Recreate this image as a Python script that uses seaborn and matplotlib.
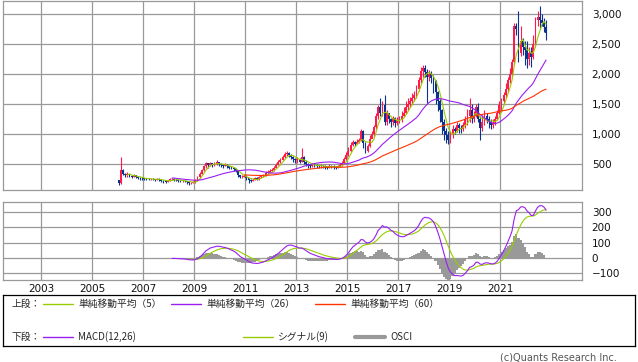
import numpy as np
import pandas as pd
import matplotlib
matplotlib.use("Agg")
import matplotlib.pyplot as plt
from matplotlib.ticker import FuncFormatter
import seaborn as sns

# --------------------------
# DATA (monthly candles, Jan 2006 - Oct 2022)
# --------------------------
first_open = 230

close_2006 = [190, 400, 340, 310, 330, 300, 290, 320, 280, 270, 265, 260]
close_2007 = [255, 250, 245, 250, 245, 240, 250, 240, 225, 210, 205, 220]
close_2008 = [245, 255, 240, 230, 220, 215, 225, 210, 200, 185, 190, 200]
close_2009 = [230, 280, 340, 400, 460, 510, 480, 520, 490, 500, 530, 500]
close_2010 = [480, 470, 490, 460, 440, 430, 420, 380, 310, 280, 290, 300]
close_2011 = [260, 230, 220, 240, 260, 250, 280, 300, 310, 350, 370, 380]
close_2012 = [400, 440, 490, 530, 570, 610, 660, 690, 650, 620, 580, 560]
close_2013 = [580, 540, 620, 540, 500, 480, 470, 490, 480, 470, 460, 470]
close_2014 = [460, 450, 440, 470, 460, 450, 440, 460, 480, 520, 580, 650]
close_2015 = [720, 820, 860, 840, 870, 900, 1050, 850, 720, 800, 920, 1000]
close_2016 = [1120, 1300, 1450, 1350, 1480, 1200, 1350, 1250, 1200, 1260, 1180, 1230]
close_2017 = [1250, 1300, 1350, 1450, 1500, 1550, 1600, 1650, 1750, 1900, 2050, 2100]
close_2018 = [2030, 1950, 2000, 1930, 1880, 1700, 1550, 1400, 1200, 1050, 980, 900]
close_2019 = [1000, 1080, 1050, 1150, 1100, 1080, 1150, 1250, 1300, 1400, 1250, 1300]
close_2020 = [1450, 1250, 1100, 1200, 1300, 1250, 1200, 1150, 1180, 1250, 1350, 1480]
close_2021 = [1550, 1650, 1750, 1900, 2000, 2200, 2800, 2750, 2350, 2550, 2450, 2400]
close_2022 = [2250, 2350, 2280, 2500, 2900, 2950, 2900, 2850, 2780, 2680]

high_2006 = [240, 620, 420, 350, 360, 340, 320, 340, 320, 290, 285, 280]
high_2007 = [275, 270, 265, 265, 260, 255, 265, 260, 245, 235, 225, 240]
high_2008 = [265, 275, 260, 250, 240, 235, 240, 230, 220, 210, 205, 215]
high_2009 = [250, 300, 360, 420, 480, 530, 520, 540, 520, 530, 560, 540]
high_2010 = [510, 500, 520, 500, 470, 460, 450, 430, 390, 320, 310, 320]
high_2011 = [310, 270, 250, 260, 280, 280, 300, 320, 340, 380, 400, 410]
high_2012 = [430, 470, 520, 560, 600, 650, 700, 720, 700, 660, 630, 600]
high_2013 = [620, 600, 760, 640, 560, 520, 500, 520, 510, 500, 490, 500]
high_2014 = [490, 480, 470, 500, 490, 480, 470, 490, 510, 550, 620, 700]
high_2015 = [780, 860, 900, 890, 910, 940, 1080, 1070, 860, 830, 980, 1050]
high_2016 = [1150, 1350, 1480, 1600, 1550, 1650, 1400, 1300, 1270, 1300, 1280, 1280]
high_2017 = [1300, 1380, 1450, 1550, 1600, 1620, 1680, 1720, 1820, 1950, 2120, 2150]
high_2018 = [2150, 2080, 2060, 2050, 1980, 1900, 1720, 1580, 1420, 1250, 1100, 1050]
high_2019 = [1050, 1150, 1120, 1200, 1180, 1150, 1200, 1300, 1420, 1600, 1500, 1380]
high_2020 = [1500, 1520, 1300, 1320, 1400, 1350, 1300, 1250, 1250, 1300, 1400, 1550]
high_2021 = [1600, 1700, 1850, 1950, 2100, 2250, 2850, 2850, 3050, 2800, 2600, 2550]
high_2022 = [2550, 2450, 2450, 2650, 2950, 3050, 3130, 3000, 2930, 2900]

low_2006 = [150, 170, 320, 280, 290, 280, 270, 280, 260, 250, 240, 240]
low_2007 = [240, 235, 230, 235, 230, 225, 230, 220, 200, 180, 190, 200]
low_2008 = [210, 235, 225, 215, 205, 200, 205, 195, 175, 150, 170, 180]
low_2009 = [190, 220, 270, 330, 390, 440, 440, 460, 450, 460, 480, 470]
low_2010 = [450, 440, 460, 430, 420, 410, 390, 370, 290, 260, 270, 280]
low_2011 = [240, 190, 200, 210, 230, 230, 240, 270, 280, 300, 340, 350]
low_2012 = [370, 390, 430, 480, 520, 560, 600, 640, 620, 580, 540, 520]
low_2013 = [520, 510, 530, 500, 460, 440, 440, 450, 450, 440, 430, 440]
low_2014 = [430, 420, 410, 430, 430, 420, 410, 430, 450, 470, 510, 560]
low_2015 = [640, 700, 800, 800, 830, 850, 880, 760, 690, 700, 780, 930]
low_2016 = [950, 1080, 1250, 1300, 1300, 1150, 1150, 1180, 1120, 1150, 1120, 1150]
low_2017 = [1180, 1200, 1280, 1330, 1400, 1450, 1500, 1550, 1600, 1720, 1850, 1950]
low_2018 = [1950, 1520, 1880, 1850, 1680, 1500, 1380, 1200, 1000, 900, 850, 830]
low_2019 = [850, 930, 1000, 1030, 1020, 1020, 1050, 1100, 1150, 1200, 1180, 1200]
low_2020 = [1280, 1200, 900, 1050, 1150, 1180, 1100, 1080, 1100, 1150, 1230, 1330]
low_2021 = [1380, 1500, 1600, 1700, 1850, 1950, 2150, 2650, 2200, 2300, 2320, 2150]
low_2022 = [2100, 2150, 2120, 2250, 2450, 2800, 2750, 2800, 2700, 2570]

year_ticks = [2003, 2005, 2007, 2009, 2011, 2013, 2015, 2017, 2019, 2021]
price_ticks = [500, 1000, 1500, 2000, 2500, 3000]
macd_ticks = [-100, 0, 100, 200, 300]

closes = (close_2006 + close_2007 + close_2008 + close_2009 + close_2010 + close_2011
          + close_2012 + close_2013 + close_2014 + close_2015 + close_2016 + close_2017
          + close_2018 + close_2019 + close_2020 + close_2021 + close_2022)
highs = (high_2006 + high_2007 + high_2008 + high_2009 + high_2010 + high_2011
         + high_2012 + high_2013 + high_2014 + high_2015 + high_2016 + high_2017
         + high_2018 + high_2019 + high_2020 + high_2021 + high_2022)
lows = (low_2006 + low_2007 + low_2008 + low_2009 + low_2010 + low_2011
        + low_2012 + low_2013 + low_2014 + low_2015 + low_2016 + low_2017
        + low_2018 + low_2019 + low_2020 + low_2021 + low_2022)

df = pd.DataFrame({"close": closes, "high": highs, "low": lows})
df["open"] = df["close"].shift(1).fillna(first_open)
df["t"] = 2006 + (np.arange(len(df)) + 0.5) / 12

# moving averages
df["ma5"] = df["close"].rolling(5).mean()
df["ma26"] = df["close"].rolling(26).mean()
df["ma60"] = df["close"].rolling(60).mean()

# MACD(12,26), signal(9)
ema12 = df["close"].ewm(span=12, adjust=False).mean()
ema26 = df["close"].ewm(span=26, adjust=False).mean()
macd = ema12 - ema26
macd.iloc[:25] = np.nan
signal = macd.ewm(span=9, adjust=False).mean()
signal.iloc[:33] = np.nan
df["macd"] = macd
df["signal"] = signal
df["osci"] = macd - signal

# --------------------------
# STYLE
# --------------------------
sns.set_style("white")
plt.rcParams["font.family"] = ["DejaVu Sans", "Noto Sans CJK JP"]

RED = "#ff1a4b"
BLUE = "#0a3291"
GREEN = "#99cc00"
PURPLE = "#9b1ef0"
ORANGE = "#ff3300"
GRID = "#999999"

fig = plt.figure(figsize=(6.38, 3.62), dpi=100)
ax = fig.add_axes([3 / 638, 172 / 362, 579 / 638, 189.5 / 362])
ax2 = fig.add_axes([3 / 638, 82 / 362, 579 / 638, 78.5 / 362])

# --------------------------
# TOP: candles + MAs
# --------------------------
up = df["close"] >= df["open"]
cols = np.where(up, RED, BLUE)
ax.vlines(df["t"], df["low"], df["high"], colors=cols, linewidth=0.8, zorder=3)
ax.bar(df["t"], df["close"] - df["open"], bottom=df["open"], width=0.85 / 12,
       color=cols, linewidth=0, zorder=3)

sns.lineplot(x=df["t"], y=df["ma5"], ax=ax, color=GREEN, linewidth=0.8, zorder=4)
sns.lineplot(x=df["t"], y=df["ma26"], ax=ax, color=PURPLE, linewidth=0.8, zorder=4)
sns.lineplot(x=df["t"], y=df["ma60"], ax=ax, color=ORANGE, linewidth=0.8, zorder=4)

ax.set_xlim(2001.5, 2024.2)
ax.set_ylim(67, 3225)
ax.set_xticks(year_ticks)
ax.set_xticklabels([])
ax.set_yticks(price_ticks)
ax.yaxis.set_major_formatter(FuncFormatter(lambda v, p: f"{int(v):,}"))

# --------------------------
# BOTTOM: MACD
# --------------------------
ax2.bar(df["t"], df["osci"], width=1 / 12, color=GRID, linewidth=0, zorder=2)
sns.lineplot(x=df["t"], y=df["signal"], ax=ax2, color=GREEN, linewidth=0.8, zorder=3)
sns.lineplot(x=df["t"], y=df["macd"], ax=ax2, color=PURPLE, linewidth=0.8, zorder=4)

ax2.set_xlim(2001.5, 2024.2)
ax2.set_ylim(-142, 365)
ax2.set_xticks(year_ticks)
ax2.set_xticklabels([str(y) for y in year_ticks])
ax2.set_yticks(macd_ticks)

for a in (ax, ax2):
    a.set_xlabel("")
    a.set_ylabel("")
    a.yaxis.tick_right()
    a.grid(True, color=GRID, linewidth=0.9)
    a.set_axisbelow(True)
    a.tick_params(axis="y", length=0, pad=7, labelsize=7.5, colors="#111111")
    a.tick_params(axis="x", length=0, pad=3, labelsize=7.5, colors="#111111")
    for s in a.spines.values():
        s.set_color(GRID)
        s.set_linewidth(0.9)

# --------------------------
# LEGEND BOX
# --------------------------
lg = fig.add_axes([3 / 638, 16 / 362, 632 / 638, 51 / 362])
lg.set_xlim(0, 632)
lg.set_ylim(51, 0)
lg.set_xticks([])
lg.set_yticks([])
for s in lg.spines.values():
    s.set_color("black")
    s.set_linewidth(0.9)

fs = 7
fam = ["Noto Sans CJK JP", "DejaVu Sans"]
row1, row2 = 8.5, 41.5
lg.text(9, row1, "上段：", fontsize=fs, va="center", family=fam)
lg.plot([40, 70], [row1, row1], color=GREEN, lw=1)
lg.text(75, row1, "単純移動平均（5）", fontsize=fs, va="center", family=fam)
lg.plot([168, 198], [row1, row1], color=PURPLE, lw=1)
lg.text(203, row1, "単純移動平均（26）", fontsize=fs, va="center", family=fam)
lg.plot([312, 342], [row1, row1], color=ORANGE, lw=1)
lg.text(347, row1, "単純移動平均（60）", fontsize=fs, va="center", family=fam)

lg.text(9, row2, "下段：", fontsize=fs, va="center", family=fam)
lg.plot([40, 70], [row2, row2], color=PURPLE, lw=1)
lg.text(75, row2, "MACD(12,26)", fontsize=fs, va="center", family=fam)
lg.plot([240, 270], [row2, row2], color=GREEN, lw=1)
lg.text(275, row2, "シグナル(9)", fontsize=fs, va="center", family=fam)
lg.plot([352, 382], [row2, row2], color=GRID, lw=3)
lg.text(387, row2, "OSCI", fontsize=fs, va="center", family=fam)

fig.text(617 / 638, 4.5 / 362, "(c)Quants Research Inc.", fontsize=7,
         color="#555555", ha="right", va="center")

fig.savefig("out.png", dpi=100)
